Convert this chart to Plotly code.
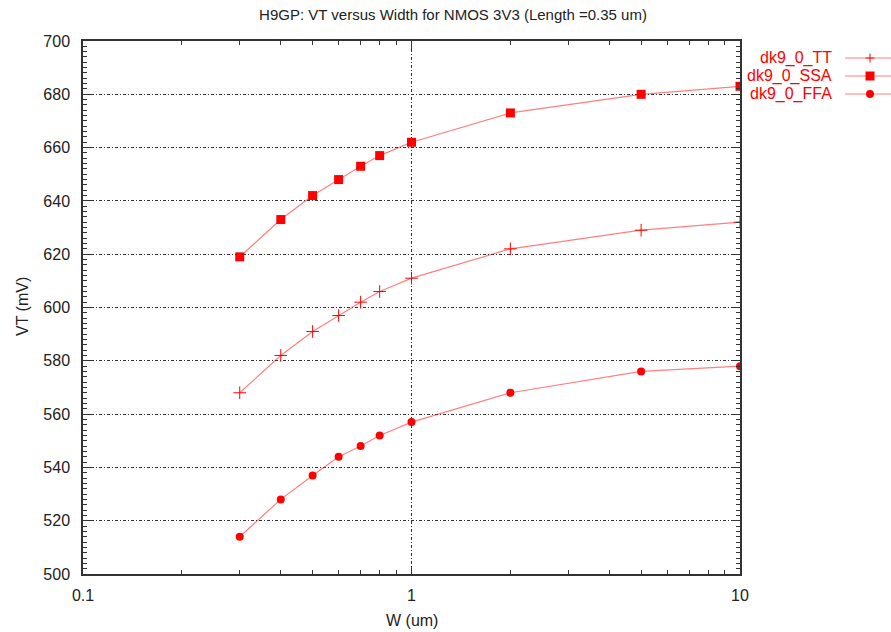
import plotly.graph_objects as go

# Threshold voltage vs. channel width, NMOS 3V3, L = 0.35 um
width_um = [0.3, 0.4, 0.5, 0.6, 0.7, 0.8, 1, 2, 5, 10]
vt_tt = [568, 582, 591, 597, 602, 606, 611, 622, 629, 632]
vt_ssa = [619, 633, 642, 648, 653, 657, 662, 673, 680, 683]
vt_ffa = [514, 528, 537, 544, 548, 552, 557, 568, 576, 578]

series_names = ["dk9_0_TT", "dk9_0_SSA", "dk9_0_FFA"]
y_ticks = [500, 520, 540, 560, 580, 600, 620, 640, 660, 680, 700]
x_ticks = [0.1, 1, 10]
x_tick_text = ["0.1", "1", "10"]

W, H = 891, 632
L_M, R_M, T_M, B_M = 83, 151, 41, 58
PW, PH = W - L_M - R_M, H - T_M - B_M

FONT = "Liberation Sans, Arial, sans-serif"
LINE_CLR = "rgba(255,0,0,0.5)"
MARK_CLR = "#ff0000"

styles = [
    dict(symbol="cross-thin", size=9, line=dict(color=MARK_CLR, width=1)),
    dict(symbol="square", size=9, color=MARK_CLR),
    dict(symbol="circle", size=8, color=MARK_CLR),
]

fig = go.Figure()
for name, ys, mk in zip(series_names, [vt_tt, vt_ssa, vt_ffa], styles):
    m = dict(mk)
    if "color" not in m:
        m["color"] = MARK_CLR
    fig.add_trace(go.Scatter(
        x=width_um, y=ys, name=name, mode="lines+markers",
        line=dict(color=LINE_CLR, width=1.2),
        marker=m, showlegend=False,
    ))


def px_to_paper(px, py):
    return (px - L_M) / PW, (H - B_M - py) / PH


# Key: right-aligned labels with the line/marker sample to their right
shapes = []
annotations = []
key_rows = [58, 76, 94]
for i, (name, py) in enumerate(zip(series_names, key_rows)):
    tx, ty = px_to_paper(834, py)
    annotations.append(dict(
        x=tx, y=ty, xref="paper", yref="paper", text=name, showarrow=False,
        xanchor="right", yanchor="middle",
        font=dict(family=FONT, size=16, color=MARK_CLR),
    ))
    x0, y0 = px_to_paper(845, py)
    x1, _ = px_to_paper(891, py)
    shapes.append(dict(type="line", xref="paper", yref="paper",
                       x0=x0, x1=x1, y0=y0, y1=y0,
                       line=dict(color=LINE_CLR, width=1.2)))
    cx = 870
    if i == 0:
        a, b = px_to_paper(cx - 4.5, py - 4.5)
        c, d = px_to_paper(cx + 4.5, py + 4.5)
        mx, my = px_to_paper(cx, py)
        shapes.append(dict(type="line", xref="paper", yref="paper",
                           x0=mx, x1=mx, y0=b, y1=d,
                           line=dict(color=MARK_CLR, width=1)))
        shapes.append(dict(type="line", xref="paper", yref="paper",
                           x0=a, x1=c, y0=my, y1=my,
                           line=dict(color=MARK_CLR, width=1)))
    else:
        r = 4.5 if i == 1 else 4
        a, b = px_to_paper(cx - r, py - r)
        c, d = px_to_paper(cx + r, py + r)
        shapes.append(dict(type="rect" if i == 1 else "circle",
                           xref="paper", yref="paper",
                           x0=a, x1=c, y0=b, y1=d,
                           fillcolor=MARK_CLR, line=dict(width=0)))

# Axis titles
ax, ay = px_to_paper(412, 620)
annotations.append(dict(x=0.5, y=ay, xref="paper", yref="paper",
                        text="W (um)", showarrow=False,
                        xanchor="center", yanchor="middle",
                        font=dict(family=FONT, size=16, color="#222")))
bx, by = px_to_paper(22, 307)
annotations.append(dict(x=bx, y=by, xref="paper", yref="paper",
                        text="VT (mV)", showarrow=False, textangle=-90,
                        xanchor="center", yanchor="middle",
                        font=dict(family=FONT, size=16, color="#222")))

fig.update_layout(
    width=W, height=H,
    margin=dict(l=L_M, r=R_M, t=T_M, b=B_M, pad=0),
    paper_bgcolor="white", plot_bgcolor="white",
    font=dict(family=FONT, size=16, color="#222"),
    title=dict(text="H9GP: VT versus Width for NMOS 3V3 (Length =0.35 um)",
               x=453 / W, xref="container", xanchor="center",
               y=1 - 15 / H, yref="container", yanchor="middle",
               font=dict(family=FONT, size=15, color="#222")),
    shapes=shapes, annotations=annotations,
)

GRID_DASH = "3px,2px,1px,2px"
fig.update_xaxes(
    type="log", range=[-1, 1],
    tickvals=x_ticks, ticktext=x_tick_text,
    ticks="inside", ticklen=8, tickcolor="#333", tickwidth=1,
    minor=dict(ticks="inside", ticklen=4, tickcolor="#333",
               tickvals=[m * d for d in (0.1, 1) for m in range(2, 10)],
               showgrid=False),
    showline=True, linecolor="#333", linewidth=1.5, mirror="allticks",
    showgrid=True, gridcolor="#333", gridwidth=1, griddash=GRID_DASH,
    zeroline=False, ticklabelstandoff=6,
)
fig.update_yaxes(
    range=[500, 700], tickvals=y_ticks,
    ticks="inside", ticklen=8, tickcolor="#333", tickwidth=1,
    minor=dict(ticks="inside", ticklen=4, tickcolor="#333", dtick=2,
               showgrid=False),
    showline=True, linecolor="#333", linewidth=1.5, mirror="allticks",
    showgrid=True, gridcolor="#333", gridwidth=1, griddash=GRID_DASH,
    zeroline=False, ticklabelstandoff=8,
)

fig.write_html("out.html")
